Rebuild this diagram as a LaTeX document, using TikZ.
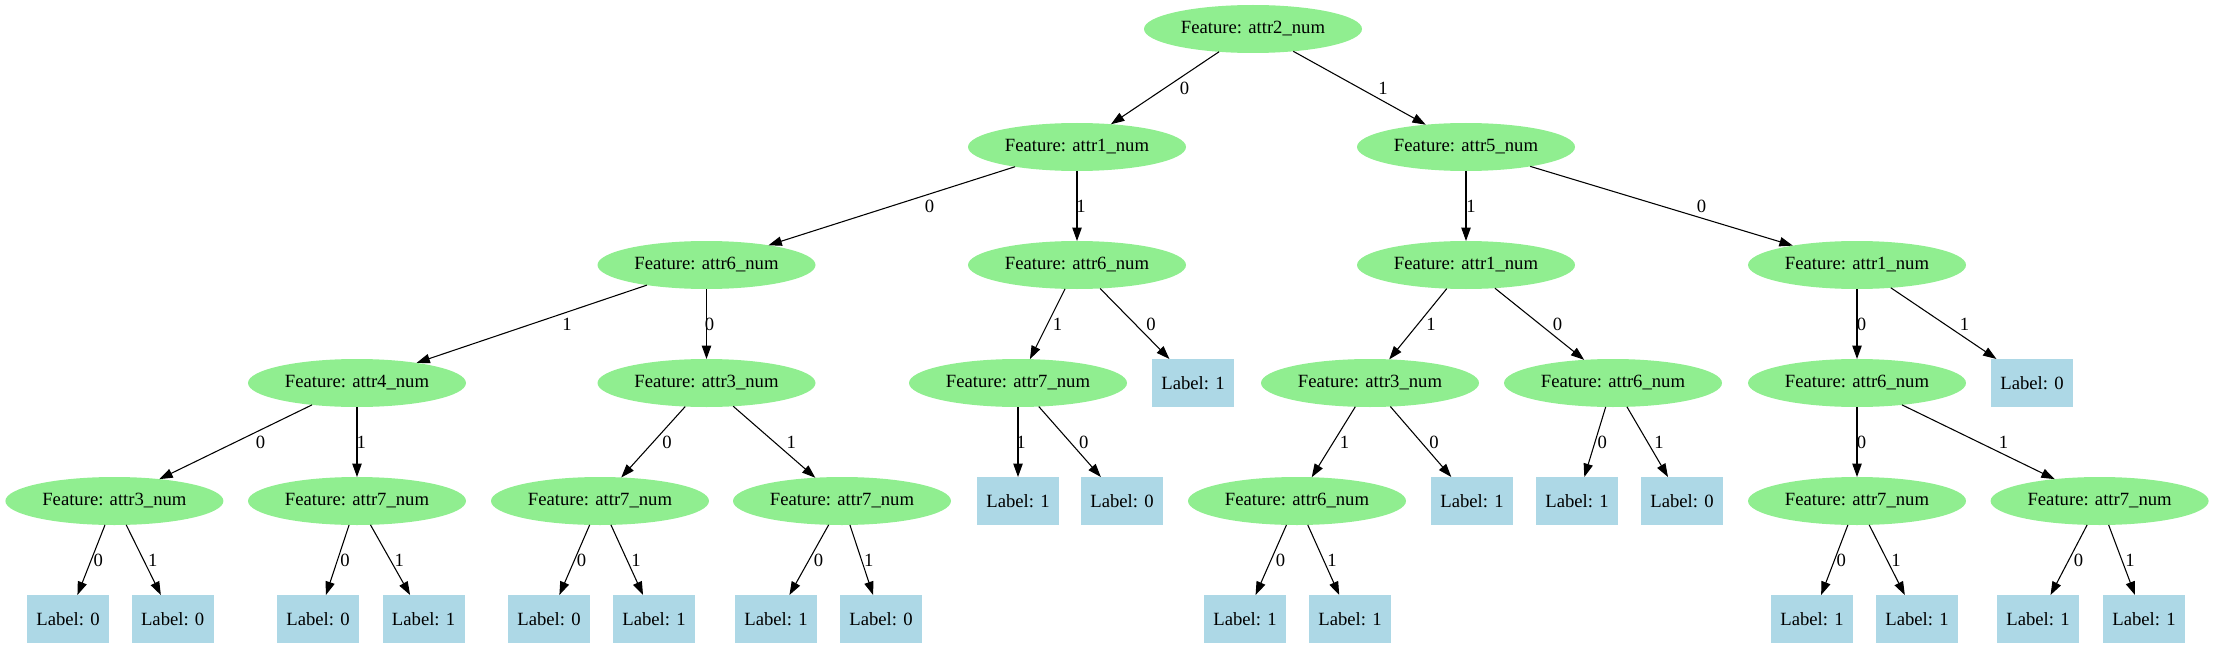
\documentclass[tikz,border=0pt]{standalone}
\usepackage{fontspec}
\setmainfont{Liberation Serif}
\usetikzlibrary{shapes.geometric,arrows.meta}
\definecolor{featgreen}{HTML}{90EE90}
\definecolor{leafblue}{HTML}{ADD8E6}
\tikzset{
  feat/.style={ellipse, fill=featgreen, draw=none, minimum width=163.5pt, minimum height=36pt, inner sep=0pt, outer sep=0pt, font=\fontsize{14pt}{16pt}\selectfont},
  leaf/.style={rectangle, fill=leafblue, draw=none, minimum width=61.5pt, minimum height=36pt, inner sep=0pt, outer sep=0pt, font=\fontsize{14pt}{16pt}\selectfont},
  edge/.style={draw=black, line width=0.8pt, -{Triangle[length=10pt,width=7pt]}},
  elab/.style={inner sep=0pt, font=\fontsize{14pt}{16pt}\selectfont}
}
\begin{document}
\begin{tikzpicture}[x=0.75pt, y=-0.75pt]
\useasboundingbox (0,0) rectangle (2215,649);
% row 0
\node[feat] (r) at (1253,29) {Feature: attr2\_num};
% row 1
\node[feat] (a) at (1077,147) {Feature: attr1\_num};
\node[feat] (b) at (1466,147) {Feature: attr5\_num};
% row 2
\node[feat] (aa) at (706.5,265) {Feature: attr6\_num};
\node[feat] (ab) at (1077,265) {Feature: attr6\_num};
\node[feat] (ba) at (1466,265) {Feature: attr1\_num};
\node[feat] (bb) at (1857,265) {Feature: attr1\_num};
% row 3
\node[feat] (aaa) at (357,383) {Feature: attr4\_num};
\node[feat] (aab) at (706.5,383) {Feature: attr3\_num};
\node[feat] (aba) at (1018,383) {Feature: attr7\_num};
\node[leaf] (abb) at (1193,383) {Label: 1};
\node[feat] (baa) at (1370,383) {Feature: attr3\_num};
\node[feat] (bab) at (1613,383) {Feature: attr6\_num};
\node[feat] (bba) at (1857,383) {Feature: attr6\_num};
\node[leaf] (bbb) at (2032,383) {Label: 0};
% row 4
\node[feat] (c1) at (114.4,501) {Feature: attr3\_num};
\node[feat] (c2) at (357,501) {Feature: attr7\_num};
\node[feat] (c3) at (600,501) {Feature: attr7\_num};
\node[feat] (c4) at (842,501) {Feature: attr7\_num};
\node[leaf] (c5) at (1018,501) {Label: 1};
\node[leaf] (c6) at (1122,501) {Label: 0};
\node[feat] (c7) at (1297,501) {Feature: attr6\_num};
\node[leaf] (c8) at (1472,501) {Label: 1};
\node[leaf] (c9) at (1577,501) {Label: 1};
\node[leaf] (c10) at (1682,501) {Label: 0};
\node[feat] (c11) at (1857,501) {Feature: attr7\_num};
\node[feat] (c12) at (2099.6,501) {Feature: attr7\_num};
% row 5
\node[leaf] (d1) at (68,619) {Label: 0};
\node[leaf] (d2) at (172.7,619) {Label: 0};
\node[leaf] (d3) at (318,619) {Label: 0};
\node[leaf] (d4) at (423.6,619) {Label: 1};
\node[leaf] (d5) at (549,619) {Label: 0};
\node[leaf] (d6) at (654,619) {Label: 1};
\node[leaf] (d7) at (776,619) {Label: 1};
\node[leaf] (d8) at (881,619) {Label: 0};
\node[leaf] (d9) at (1245,619) {Label: 1};
\node[leaf] (d10) at (1350,619) {Label: 1};
\node[leaf] (d11) at (1812,619) {Label: 1};
\node[leaf] (d12) at (1917,619) {Label: 1};
\node[leaf] (d13) at (2038,619) {Label: 1};
\node[leaf] (d14) at (2144,619) {Label: 1};
% edges
\draw[edge] (r) -- (a);   \node[elab] (l1) at (1184.5,88) {0};
\draw[edge] (r) -- (b);   \node[elab] (l2) at (1383,88) {1};
\draw[edge] (a) -- (aa);  \node[elab] (l3) at (929.5,206) {0};
\draw[edge] (a) -- (ab);  \node[elab] (l4) at (1081,206) {1};
\draw[edge] (b) -- (ba);  \node[elab] (l5) at (1471,206) {1};
\draw[edge] (b) -- (bb);  \node[elab] (l6) at (1701.5,206) {0};
\draw[edge] (aa) -- (aaa); \node[elab] (l7) at (567,324) {1};
\draw[edge] (aa) -- (aab); \node[elab] (l8) at (709.5,324) {0};
\draw[edge] (ab) -- (aba); \node[elab] (l9) at (1057.5,324) {1};
\draw[edge] (ab) -- (abb); \node[elab] (l10) at (1151,324) {0};
\draw[edge] (ba) -- (baa); \node[elab] (l11) at (1431,324) {1};
\draw[edge] (ba) -- (bab); \node[elab] (l12) at (1557.5,324) {0};
\draw[edge] (bb) -- (bba); \node[elab] (l13) at (1861.5,324) {0};
\draw[edge] (bb) -- (bbb); \node[elab] (l14) at (1964.5,324) {1};
\draw[edge] (aaa) -- (c1); \node[elab] (l15) at (260.5,442) {0};
\draw[edge] (aaa) -- (c2); \node[elab] (l16) at (361.3,442) {1};
\draw[edge] (aab) -- (c3); \node[elab] (l17) at (667,442) {0};
\draw[edge] (aab) -- (c4); \node[elab] (l18) at (791.2,442) {1};
\draw[edge] (aba) -- (c5); \node[elab] (l19) at (1021,442) {1};
\draw[edge] (aba) -- (c6); \node[elab] (l20) at (1083.8,442) {0};
\draw[edge] (baa) -- (c7); \node[elab] (l21) at (1344.5,442) {1};
\draw[edge] (baa) -- (c8); \node[elab] (l22) at (1434,442) {0};
\draw[edge] (bab) -- (c9); \node[elab] (l23) at (1602.3,442) {0};
\draw[edge] (bab) -- (c10); \node[elab] (l24) at (1659,442) {1};
\draw[edge] (bba) -- (c11); \node[elab] (l25) at (1861.5,442) {0};
\draw[edge] (bba) -- (c12); \node[elab] (l26) at (2003.5,442) {1};
\draw[edge] (c1) -- (d1); \node[elab] (l27) at (98.3,560) {0};
\draw[edge] (c1) -- (d2); \node[elab] (l28) at (152.8,560) {1};
\draw[edge] (c2) -- (d3); \node[elab] (l29) at (345,560) {0};
\draw[edge] (c2) -- (d4); \node[elab] (l30) at (399.2,560) {1};
\draw[edge] (c3) -- (d5); \node[elab] (l31) at (581.6,560) {0};
\draw[edge] (c3) -- (d6); \node[elab] (l32) at (636,560) {1};
\draw[edge] (c4) -- (d7); \node[elab] (l33) at (818.5,560) {0};
\draw[edge] (c4) -- (d8); \node[elab] (l34) at (868.8,560) {1};
\draw[edge] (c7) -- (d9); \node[elab] (l35) at (1280.5,560) {0};
\draw[edge] (c7) -- (d10); \node[elab] (l36) at (1332,560) {1};
\draw[edge] (c11) -- (d11); \node[elab] (l37) at (1841.3,560) {0};
\draw[edge] (c11) -- (d12); \node[elab] (l38) at (1895.9,560) {1};
\draw[edge] (c12) -- (d13); \node[elab] (l39) at (2078.5,560) {0};
\draw[edge] (c12) -- (d14); \node[elab] (l40) at (2130,560) {1};
\end{tikzpicture}
\end{document}
